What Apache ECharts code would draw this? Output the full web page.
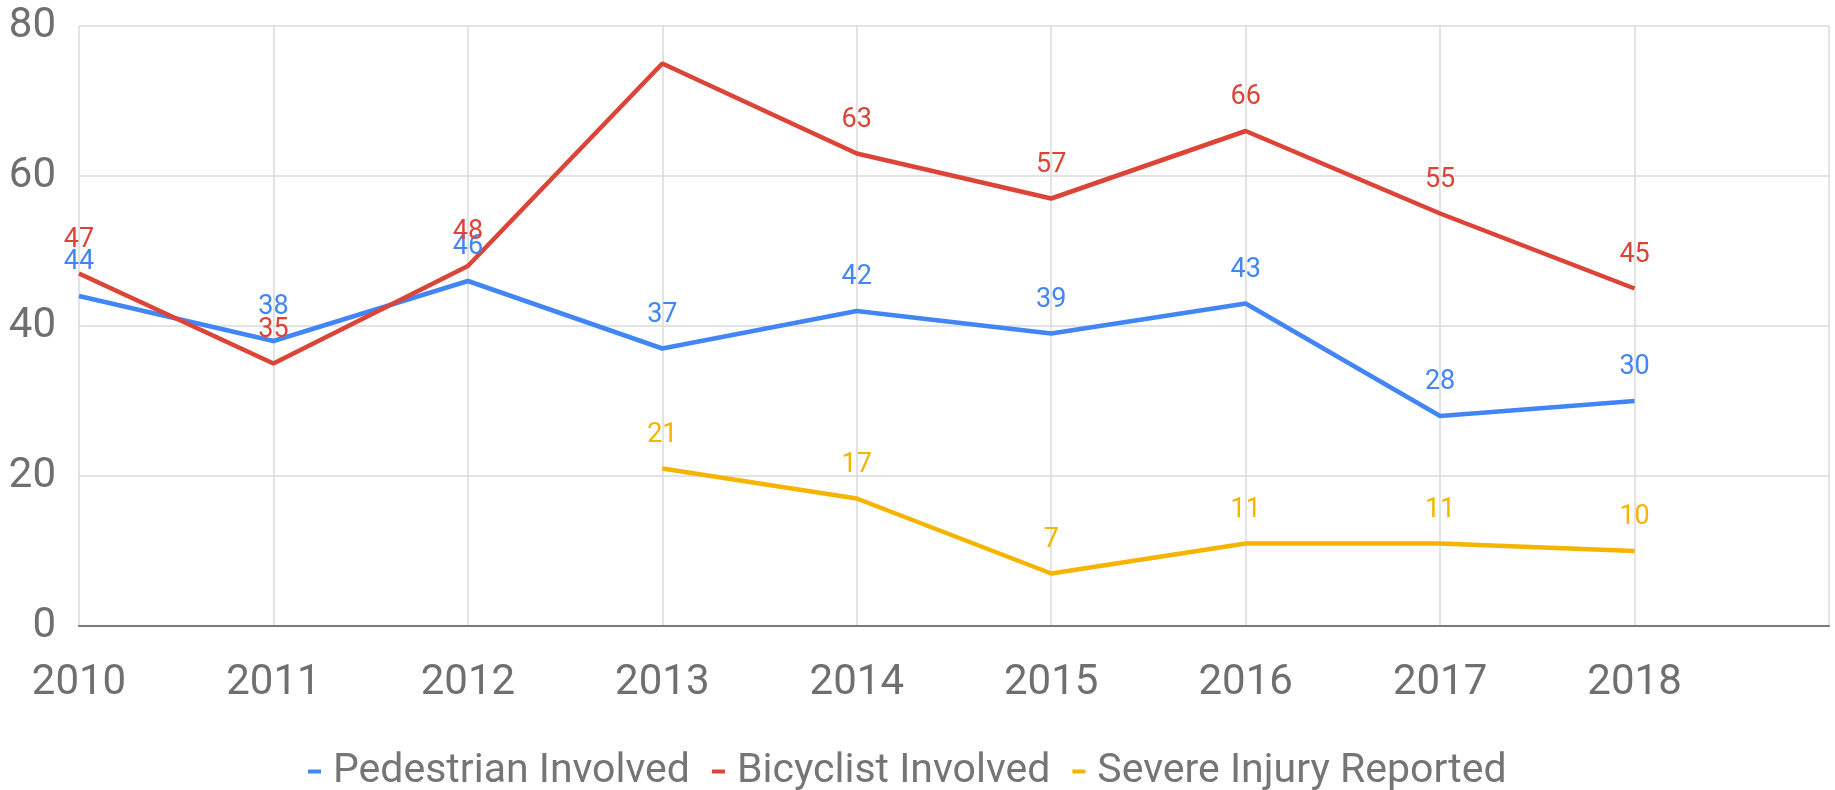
<!DOCTYPE html>
<html>
<head>
<meta charset="utf-8">
<title>Collisions 2010-2018</title>
<script src="https://cdn.jsdelivr.net/npm/echarts@6/dist/echarts.min.js"></script>
<style>
  html, body { margin: 0; padding: 0; background: #fff; }
  #chart { width: 1835px; height: 790px; }
</style>
</head>
<body>
<div id="chart"></div>
<script>
// 年份（x 轴）
const years = [2010, 2011, 2012, 2013, 2014, 2015, 2016, 2017, 2018]
// 各系列数值
const pedestrian = [44, 38, 46, 37, 42, 39, 43, 28, 30]
const bicyclist = [47, 35, 48, 75, 63, 57, 66, 55, 45]
const severe = [null, null, null, 21, 17, 7, 11, 11, 10]
// 原图中没有数值标签的点（按年份）
const bicyclistHiddenLabels = [2013]
// y 轴刻度
const yTicks = [0, 20, 40, 60, 80]

const seriesNames = ['Pedestrian Involved', 'Bicyclist Involved', 'Severe Injury Reported']
const colors = ['#4285f4', '#db4437', '#f4b400']
const font = 'Roboto'

// 把数组转换成 [x, y] 点，空值跳过
function toPoints(values, hidden = []) {
  const pts = []
  years.forEach((y, i) => {
    if (values[i] == null) return
    if (hidden.includes(y)) pts.push({ value: [y, values[i]], label: { show: false } })
    else pts.push([y, values[i]])
  })
  return pts
}

function lineSeries(name, color, data) {
  return {
    name,
    type: 'line',
    data,
    color,
    symbol: 'circle',
    symbolSize: 0,
    showSymbol: true,
    lineStyle: { width: 4.5, color },
    label: {
      show: true,
      position: 'top',
      distance: 20,
      color,
      fontFamily: font,
      fontSize: 27
    },
    emphasis: { disabled: true },
    animation: false
  }
}

const chart = echarts.init(document.getElementById('chart'))
chart.setOption({
  backgroundColor: '#fff',
  grid: { left: 79, right: 6, top: 26, bottom: 164, containLabel: false },
  legend: {
    top: 746,
    left: 303,
    icon: 'rect',
    itemWidth: 13,
    itemHeight: 4,
    itemGap: 22,
    textStyle: { fontFamily: font, fontSize: 41, color: '#757575', padding: [0, 0, 0, 7] },
    data: seriesNames
  },
  xAxis: {
    type: 'value',
    min: years[0],
    max: years[years.length - 1] + 1,
    interval: 1,
    axisLine: { show: true, lineStyle: { color: '#7a7a7a', width: 2 } },
    axisTick: { show: false },
    axisLabel: {
      fontFamily: font,
      fontSize: 42,
      color: '#6f6f6f',
      margin: 36,
      showMaxLabel: false,
      formatter: v => String(v)
    },
    splitLine: { show: true, lineStyle: { color: '#dadada', width: 1.5 } }
  },
  yAxis: {
    type: 'value',
    min: yTicks[0],
    max: yTicks[yTicks.length - 1],
    interval: yTicks[1] - yTicks[0],
    axisLine: { show: false },
    axisTick: { show: false },
    axisLabel: { fontFamily: font, fontSize: 42, color: '#6f6f6f', margin: 23 },
    splitLine: { show: true, lineStyle: { color: '#dadada', width: 1.5 } }
  },
  series: [
    lineSeries(seriesNames[0], colors[0], toPoints(pedestrian)),
    lineSeries(seriesNames[1], colors[1], toPoints(bicyclist, bicyclistHiddenLabels)),
    lineSeries(seriesNames[2], colors[2], toPoints(severe))
  ]
})
window.addEventListener('resize', () => chart.resize())
</script>
</body>
</html>
